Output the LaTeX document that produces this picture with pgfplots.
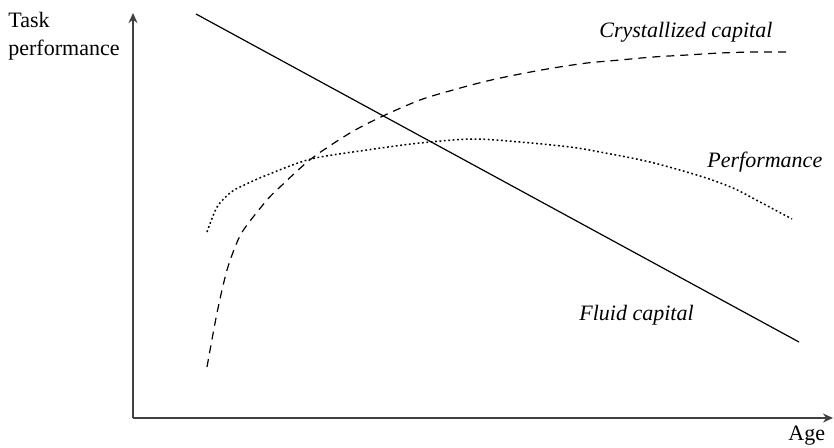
\documentclass[border=0pt]{standalone}
\usepackage{fontspec}
\setmainfont{Liberation Serif}
\usepackage{pgfplots}
\pgfplotsset{compat=1.18}
\usetikzlibrary{arrows.meta}

% one axis unit = one pixel of the reference = 0.5pt
\pgfplotstableread{
x y
74 51
84 105
94 148
105 178
114 193
134 218
147 231
178 259
217 285
250 302
287 318
320 328
354 337
387 344
420 350
454 355
487 358
520 361
554 363
587 365
620 366
654 366
}\crystal

\pgfplotstableread{
x y
74 186
84 211
97 225
107 231
134 243
178 259
234 268
287 275
340 279
387 276
437 271
467 266
517 256
567 242
600 230
627 216
659 199
}\perf

\pgfplotstableread{
x y
63 404
666 76
}\fluid

\tikzset{lbl/.style={inner sep=0pt, anchor=base west, font=\fontsize{11}{13}\selectfont}}

\begin{document}
\begin{tikzpicture}
\begin{axis}[
    scale only axis,
    width=350pt, height=202.5pt,
    xmin=0, xmax=700, ymin=0, ymax=405,
    axis lines=left,
    axis line style={black!75, line width=0.8pt, -{Stealth[length=5pt, width=4.5pt]}},
    xtick=\empty, ytick=\empty,
    clip=false,
]
\addplot [black, line width=0.6pt] table {\fluid};
\addplot [black, line width=0.6pt, smooth, dash pattern=on 4pt off 3pt] table {\crystal};
\addplot [black, line width=0.75pt, smooth, dash pattern=on 0.9pt off 1.3pt] table {\perf};

\node [lbl] at (axis cs:-125,391) {Task};
\node [lbl] at (axis cs:-125,363) {performance};
\node [lbl] at (axis cs:655,-22) {Age};
\node [lbl] at (axis cs:466,381) {\itshape Crystallized capital};
\node [lbl] at (axis cs:574,251) {\itshape Performance};
\node [lbl] at (axis cs:446,98) {\itshape Fluid capital};

\path (axis cs:-133,-29) rectangle (axis cs:701,418);
\end{axis}
\end{tikzpicture}
\end{document}
